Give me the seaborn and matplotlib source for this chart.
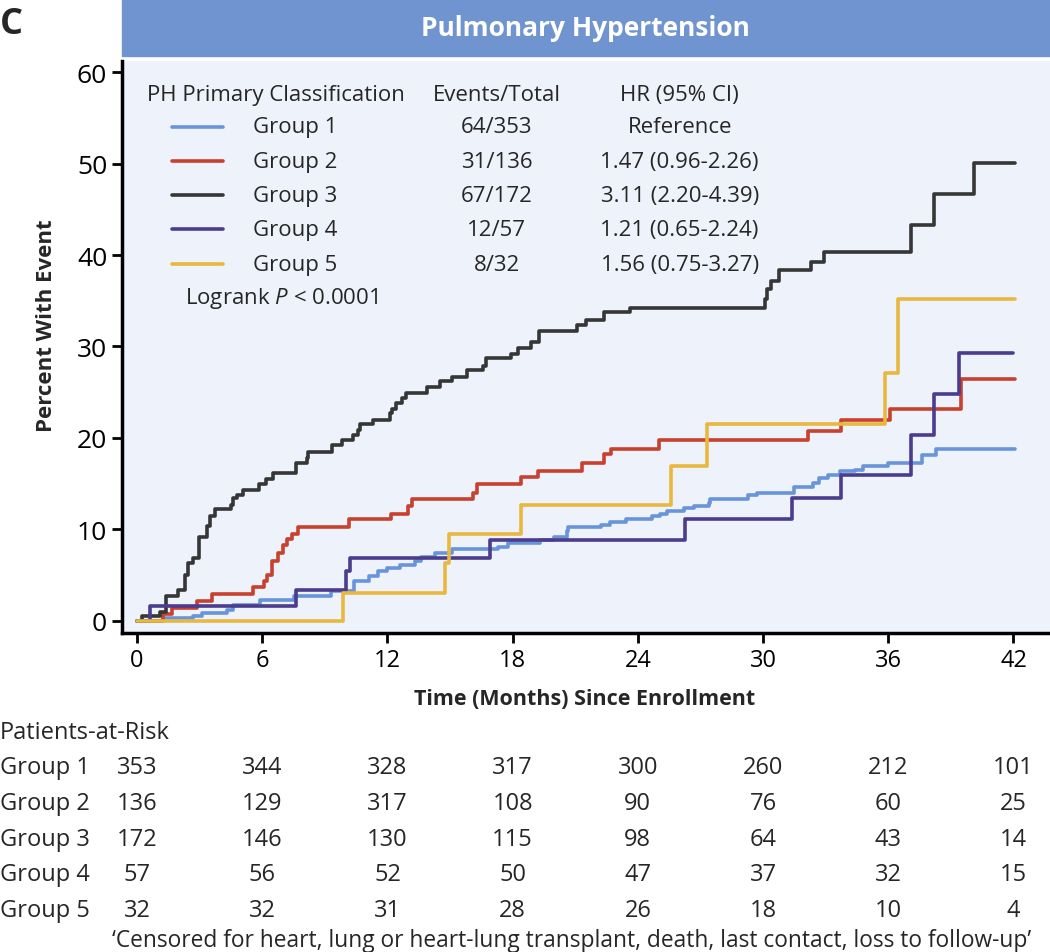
import numpy as np
import pandas as pd
import matplotlib
matplotlib.use("Agg")
import matplotlib.pyplot as plt
from matplotlib.patches import Rectangle
from matplotlib.transforms import blended_transform_factory
import seaborn as sns

sns.set_style("ticks")
plt.rcParams["font.family"] = ["Open Sans", "DejaVu Sans"]
plt.rcParams["mathtext.fontset"] = "custom"
plt.rcParams["mathtext.rm"] = "Open Sans"
plt.rcParams["mathtext.it"] = "Open Sans:italic"

# --- veriler ---
groups = ["Group 1", "Group 2", "Group 3", "Group 4", "Group 5"]
colors = ["#6794da", "#c8402e", "#363636", "#4b3c8e", "#e8b83f"]
events_total = ["64/353", "31/136", "67/172", "12/57", "8/32"]
hr_ci = ["Reference", "1.47 (0.96-2.26)", "3.11 (2.20-4.39)",
         "1.21 (0.65-2.24)", "1.56 (0.75-3.27)"]

g1_t = [0, 1.26, 2.7, 3.1, 4.3, 4.6, 5.9, 7.5, 9.3, 10.4, 11.1, 11.55, 11.96,
        12.6, 13.3, 13.6, 14.27, 15.07, 17.3, 17.8, 19.3, 19.97, 20.6, 20.66,
        22.25, 22.65, 23.45, 24.7, 25.05, 25.4, 26.2, 26.7, 27.4, 27.45, 29.3,
        29.7, 31.5, 32.4, 32.7, 33.1, 33.7, 34.4, 34.8, 36.0, 37.6, 38.3, 42.05]
g1_p = [0, 0.3, 0.5, 0.8, 1.2, 1.75, 2.3, 2.66, 3.2, 4.3, 4.85, 5.4, 5.77,
        6.1, 6.5, 7.0, 7.4, 7.8, 8.1, 8.55, 8.8, 9.2, 9.8, 10.3,
        10.5, 10.8, 11.1, 11.4, 11.7, 12.0, 12.3, 12.6, 12.9, 13.36, 13.7,
        14.0, 14.6, 15.1, 15.6, 15.9, 16.35, 16.5, 16.9, 17.3, 18.1, 18.8, 18.8]

g2_t = [0, 1.26, 1.66, 2.86, 3.58, 5.57, 6.08, 6.21, 6.45, 6.77, 7.0, 7.2,
        7.45, 7.7, 10.17, 12.16, 13.0, 13.2, 16.1, 16.27, 18.4, 19.2, 21.3,
        22.4, 22.7, 25.0, 32.15, 33.75, 36.1, 39.5, 42.05]
g2_p = [0, 0.7, 1.4, 2.1, 2.9, 3.7, 4.3, 5.0, 6.5, 7.4, 8.3, 8.9,
        9.5, 10.3, 11.1, 11.7, 12.5, 13.3, 14.0, 14.9, 15.7, 16.4, 17.3,
        18.2, 18.8, 19.8, 20.8, 22.0, 23.2, 26.4, 26.4]

g3_t = [0, 0.22, 1.10, 1.39, 1.98, 2.30, 2.46, 2.67, 2.97, 3.37, 3.5, 3.74,
        4.5, 4.61, 4.77, 5.06, 5.86, 6.16, 6.5, 7.6, 8.13, 8.2, 9.35, 9.8,
        10.36, 10.6, 10.68, 11.3, 12.1, 12.2, 12.4, 12.7, 12.9, 13.9, 14.5,
        15.07, 15.8, 16.6, 16.7, 17.9, 18.26, 18.87, 19.27, 21.1, 21.5, 22.4,
        23.6, 30.1, 30.2, 30.4, 30.76, 32.3, 32.9, 37.1, 38.2, 40.1, 42.05]
g3_p = [0, 0.5, 1.0, 2.66, 3.4, 5.0, 6.3, 6.9, 9.2, 10.4, 11.4, 12.2,
        12.7, 13.4, 13.8, 14.35, 14.9, 15.5, 16.2, 17.3, 17.8, 18.5, 19.2, 19.75,
        20.3, 20.9, 21.5, 21.9, 22.7, 23.2, 23.8, 24.4, 24.9, 25.6, 26.2,
        26.7, 27.4, 27.85, 28.7, 29.2, 29.8, 30.5, 31.7, 32.3, 32.9, 33.8,
        34.2, 35.2, 36.3, 37.2, 38.4, 39.2, 40.3, 43.3, 46.7, 50.1, 50.1]

g4_t = [0, 0.6, 7.6, 10.0, 10.2, 16.9, 26.25, 31.4, 33.75, 37.1, 38.2, 39.4, 42.0]
g4_p = [0, 1.6, 3.4, 5.4, 6.9, 8.8, 11.1, 13.4, 15.9, 20.3, 24.8, 29.3, 29.3]

g5_t = [0, 9.85, 14.75, 14.95, 18.4, 25.6, 27.3, 35.85, 36.45, 42.05]
g5_p = [0, 3.0, 6.3, 9.5, 12.7, 16.9, 21.5, 27.1, 35.2, 35.2]

risk_months = [0, 6, 12, 18, 24, 30, 36, 42]
risk_g1 = [353, 344, 328, 317, 300, 260, 212, 101]
risk_g2 = [136, 129, 317, 108, 90, 76, 60, 25]
risk_g3 = [172, 146, 130, 115, 98, 64, 43, 14]
risk_g4 = [57, 56, 52, 50, 47, 37, 32, 15]
risk_g5 = [32, 32, 31, 28, 26, 18, 10, 4]

seriler = [(g1_t, g1_p), (g2_t, g2_p), (g3_t, g3_p), (g4_t, g4_p), (g5_t, g5_p)]
df = pd.concat([pd.DataFrame({"month": t, "pct": p, "group": g})
                for g, (t, p) in zip(groups, seriler)], ignore_index=True)
risk = [risk_g1, risk_g2, risk_g3, risk_g4, risk_g5]

# --- grafik ---
fig = plt.figure(figsize=(10.5, 9.53), dpi=100)
ax = fig.add_axes([0.116, 0.3347, 0.884, 0.600])
ax.set_facecolor("#eef2fa")

sns.lineplot(data=df, x="month", y="pct", hue="group", palette=colors,
             drawstyle="steps-post", estimator=None, sort=False,
             linewidth=2.6, legend=False, ax=ax)

ax.set_xlim(-0.73, 43.75)
ax.set_ylim(-1.35, 61.2)
ax.set_xticks(risk_months)
ax.set_yticks(range(0, 61, 10))
for s in ["top", "right"]:
    ax.spines[s].set_visible(False)
for s in ["left", "bottom"]:
    ax.spines[s].set_linewidth(2.5)
    ax.spines[s].set_color("black")
ax.tick_params(direction="out", length=7, width=2, colors="black")
ax.tick_params(axis="y", labelsize=19)
ax.tick_params(axis="x", labelsize=17)

ax.set_xlabel("Time (Months) Since Enrollment", fontsize=15.5, fontweight="bold")
ax.xaxis.set_label_coords(0.499, -0.097)
ax.set_ylabel("Percent With Event", fontsize=16, fontweight="bold")
ax.yaxis.set_label_coords(-0.070, 0.54)

# legend tablosu
fs = 16
ax.text(0.027, 0.942, "PH Primary Classification", transform=ax.transAxes,
        fontsize=fs, va="center")
ax.text(0.404, 0.942, "Events/Total", transform=ax.transAxes, fontsize=fs,
        ha="center", va="center")
ax.text(0.601, 0.942, "HR (95% CI)", transform=ax.transAxes, fontsize=fs,
        ha="center", va="center")
row_y = [0.885, 0.825, 0.766, 0.706, 0.645]
for g, c, et, hr, y in zip(groups, colors, events_total, hr_ci, row_y):
    ax.plot([0.054, 0.109], [y, y], transform=ax.transAxes, color=c, lw=2.6)
    ax.text(0.141, y, g, transform=ax.transAxes, fontsize=fs, va="center")
    ax.text(0.404, y, et, transform=ax.transAxes, fontsize=fs, ha="center", va="center")
    ax.text(0.601, y, hr, transform=ax.transAxes, fontsize=fs, ha="center", va="center")
ax.text(0.068, 0.586, "Logrank $P$ < 0.0001", transform=ax.transAxes,
        fontsize=fs, va="center")

# baslik seridi
fig.add_artist(Rectangle((0.116, 0.940), 0.884, 0.06, transform=fig.transFigure,
                         color="#7094d0", zorder=0))
fig.text(0.558, 0.970, "Pulmonary Hypertension", color="white", fontsize=19,
         fontweight="bold", ha="center", va="center")
fig.text(0.0, 0.974, "C", fontsize=26, fontweight="bold", va="center")

# risk tablosu
tfs = 17
trans = blended_transform_factory(ax.transData, fig.transFigure)
fig.text(0.0, 1 - 733 / 953, "Patients-at-Risk", fontsize=tfs, va="center")
for i, (g, vals) in enumerate(zip(groups, risk)):
    y = 1 - (768 + 35.8 * i) / 953
    fig.text(0.0, y, g, fontsize=tfs, va="center")
    for m, n in zip(risk_months, vals):
        ax.text(m, y, str(n), transform=trans, fontsize=tfs, ha="center",
                va="center", clip_on=False)
fig.text(0.107, 1 - 941 / 953,
         "\u2018Censored for heart, lung or heart-lung transplant, death, "
         "last contact, loss to follow-up\u2019", fontsize=16.4, va="center")

fig.savefig("out.png", dpi=100)
